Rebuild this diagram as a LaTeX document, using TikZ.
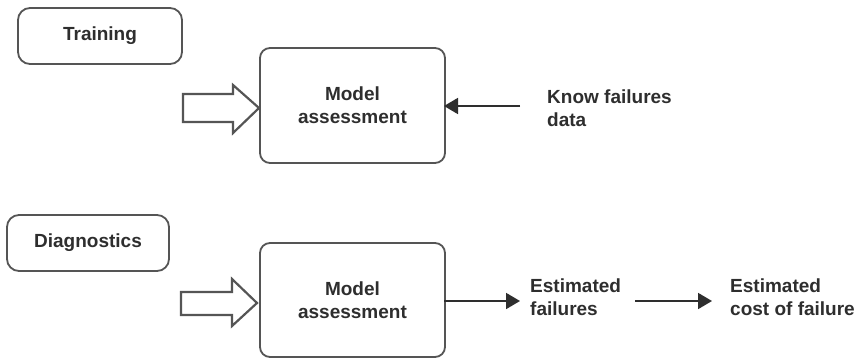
\documentclass[tikz,border=0pt]{standalone}
\usepackage{fontspec}
\setmainfont{Liberation Sans}
\usetikzlibrary{arrows.meta}
\definecolor{edge}{HTML}{555555}
\definecolor{txt}{HTML}{2E2E2E}
\begin{document}
\begin{tikzpicture}[x=1pt,y=-1pt,
  lbl/.style={font=\fontsize{19}{23}\selectfont\bfseries, text=txt},
  roundbox/.style={draw=edge, line width=1.8pt, rounded corners=12pt, lbl},
  modelbox/.style={draw=edge, line width=1.8pt, rounded corners=10pt, lbl, align=center},
  freetext/.style={lbl, align=left, anchor=west, inner sep=0pt},
  conn/.style={draw=txt, line width=1.8pt, -{Triangle[length=14pt,width=16pt]}},
  hollow/.style={draw=edge, line width=2.2pt, fill=white, line join=miter}
]
\useasboundingbox (0,0) rectangle (858,359);
\fill[white] (0,0) rectangle (858,359);

% Labels
\node[roundbox, minimum width=164pt, minimum height=56pt] (train) at (100,36) {Training};
\node[roundbox, minimum width=162pt, minimum height=56pt] (diag) at (88,243) {Diagnostics};

% Model boxes
\node[modelbox, minimum width=185pt, minimum height=115pt] (m1) at (352.5,105.5) {Model\\assessment};
\node[modelbox, minimum width=185pt, minimum height=114pt] (m2) at (352.5,300) {Model\\assessment};

% Hollow arrows
\draw[hollow] (183,94) -- (233,94) -- (233,85) -- (259,108) -- (233,133) -- (233,122) -- (183,122) -- cycle;
\draw[hollow] (181,292) -- (232,292) -- (232,279) -- (257,303) -- (232,326) -- (232,315) -- (181,315) -- cycle;

% Texts
\node[freetext] (kfd) at (547,108.5) {Know failures\\data};
\node[freetext] (ef) at (530,297) {Estimated\\failures};
\node[freetext] (ecf) at (730,297) {Estimated\\cost of failure};

% Connectors
\coordinate (kstart) at (520,106);
\coordinate (k1end) at (444,106);
\draw[conn] (kstart) -- (k1end);
\coordinate (m2out) at (444,301);
\coordinate (efin) at (520,301);
\draw[conn] (m2out) -- (efin);
\coordinate (a2s) at (635,301);
\coordinate (a2e) at (712,301);
\draw[conn] (a2s) -- (a2e);
\end{tikzpicture}
\end{document}
